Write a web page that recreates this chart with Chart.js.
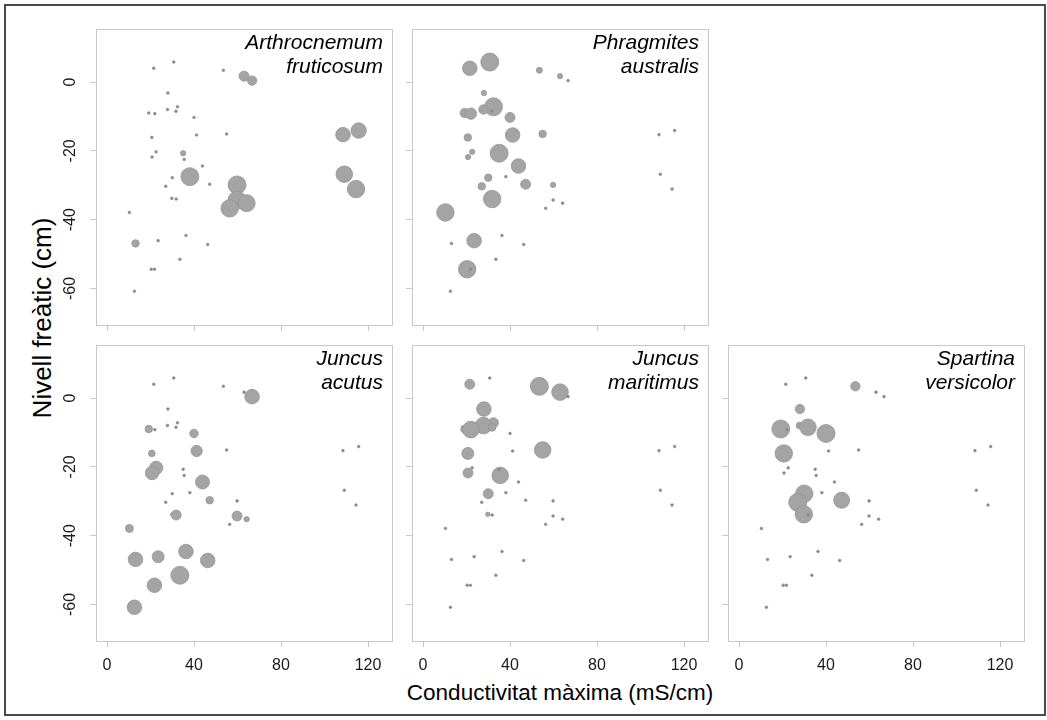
<!DOCTYPE html>
<html><head><meta charset="utf-8">
<script src="https://cdn.jsdelivr.net/npm/chart.js@4.4.1/dist/chart.umd.min.js"></script>
<style>
html,body{margin:0;padding:0;background:#fff;}
body{width:1047px;height:720px;position:relative;overflow:hidden;font-family:'Liberation Sans',Arial,sans-serif;}
.frame{position:absolute;left:4px;top:4px;width:1042px;height:712px;border:2px solid #4a4a4a;box-sizing:border-box;}
canvas{position:absolute;}
.sp{position:absolute;font-style:italic;font-size:21px;line-height:24px;text-align:right;color:#000;width:280px;white-space:nowrap;}
.ytitle{position:absolute;left:42px;top:318px;transform:translate(-50%,-50%) rotate(-90deg);font-size:26px;white-space:nowrap;color:#000;}
.xtitle{position:absolute;left:560px;top:693px;transform:translate(-50%,-50%);font-size:22.5px;white-space:nowrap;color:#000;}
</style></head>
<body>
<div class="frame"></div>
<div class="ytitle">Nivell freàtic (cm)</div>
<div class="xtitle">Conductivitat màxima (mS/cm)</div>
<script>
// Sites: maximum conductivity (mS/cm) and water table level (cm)
const conductivity = [21.5,30.7,53.5,28.0,32.4,27.8,31.7,19.2,22.0,40.0,
  20.6,41.2,55.0,22.6,20.7,35.5,35.0,43.9,30.0,27.0,
  47.2,29.8,31.8,10.3,36.3,23.5,46.3,33.5,20.3,21.8,
  12.6,13.1,38.1,59.8,59.8,64.2,56.4,63.0,66.7,108.5,
  115.7,109.1,114.5];
const waterTable = [4.0,5.8,3.4,-3.2,-7.2,-8.0,-8.5,-9.0,-9.2,-10.3,
  -16.1,-15.4,-15.1,-20.3,-21.8,-22.5,-20.7,-24.4,-27.8,-30.3,
  -29.7,-33.8,-34.0,-37.9,-44.6,-46.1,-47.2,-51.5,-54.4,-54.4,
  -60.8,-46.9,-27.5,-29.9,-34.3,-35.2,-36.7,1.7,0.4,-15.3,
  -14.1,-26.8,-31.1];
// Cover of each species at each site (estimated)
const coverArthrocnemum = [0,0,0,0,0,0,0,0,0,0, 0,0,0,0,0,0,7,0,0,0, 0,0,0,0,0,0,0,0,0,0, 0,14,81,81,81,72,76,25,22,53, 59,69,76];
const coverPhragmites  = [53,81,9,7,81,22,0,22,32,25, 14,53,14,7,7,0,81,53,14,14, 25,0,76,76,0,53,0,0,76,0, 0,0,0,7,0,0,0,7,0,0, 0,0,0];
const coverJuncusAcutus = [0,0,0,0,0,0,0,14,0,18, 11,32,0,45,45,0,0,49,0,0, 14,0,25,16,53,36,53,81,0,53, 53,53,0,0,25,7,0,0,53,0, 0,0,0];
const coverJuncusMaritimus = [25,0,81,53,25,69,16,16,69,0, 36,0,69,0,25,69,0,0,25,0, 0,5,0,0,0,0,0,0,0,0, 0,0,0,0,0,0,0,69,0,0, 0,0,0];
const coverSpartina = [0,0,22,22,0,11,69,81,0,81, 76,0,0,0,0,0,0,0,76,81, 64,76,0,0,0,0,0,0,0,0, 0,0,0,0,0,0,0,0,0,0, 0,0,0];
const speciesNames = ['Arthrocnemum fruticosum','Phragmites australis','Juncus acutus','Juncus maritimus','Spartina versicolor'];
const xTicks = [0,40,80,120];
const yTicks = [0,-20,-40,-60];

const covers = [coverArthrocnemum, coverPhragmites, coverJuncusAcutus, coverJuncusMaritimus, coverSpartina];
const layout = [
  {col:0,row:0,showX:false,showY:true},
  {col:1,row:0,showX:false,showY:false},
  {col:0,row:1,showX:true,showY:true},
  {col:1,row:1,showX:true,showY:false},
  {col:2,row:1,showX:true,showY:false}
];
const colLeft=[96,412,728], rowTop=[29,345], P=296, AX=60, AXH=50, PAD=4;

const boxPlugin = {
  id:'box',
  afterDraw(chart){
    const {ctx, chartArea:a} = chart;
    ctx.save(); ctx.strokeStyle='#c8c8c8'; ctx.lineWidth=1;
    ctx.strokeRect(a.left+0.5, a.top+0.5, a.right-a.left, a.bottom-a.top);
    ctx.restore();
  }
};
function zeroPad(s){ s.paddingTop=0; s.paddingBottom=0; s.paddingLeft=0; s.paddingRight=0; }

speciesNames.forEach((name,i)=>{
  const L = layout[i];
  const cv = document.createElement('canvas');
  cv.width = AX+P+PAD; cv.height = PAD+P+AXH;
  cv.style.left = (colLeft[L.col]-AX)+'px';
  cv.style.top = (rowTop[L.row]-PAD)+'px';
  document.body.appendChild(cv);
  const cover = covers[i];
  const pts = conductivity.map((x,k)=>({x:x, y:waterTable[k], r: cover[k]>0 ? Math.sqrt(cover[k]) : 1.3}));
  new Chart(cv, {
    type:'bubble',
    data:{datasets:[{data:pts,
      backgroundColor: ctx => (cover[ctx.dataIndex]>0 ? '#a4a4a4' : '#8c8c8c'),
      borderColor: ctx => (cover[ctx.dataIndex]>0 ? '#959595' : '#8c8c8c'),
      borderWidth:0.8, clip:false}]},
    options:{
      responsive:false, animation:false, devicePixelRatio:1,
      layout:{autoPadding:false, padding:{left:0,right:PAD,top:PAD,bottom:0}},
      plugins:{legend:{display:false},tooltip:{enabled:false}},
      events:[],
      scales:{
        x:{type:'linear',min:-5.06,max:131.03,
          afterBuildTicks:s=>{s.ticks = xTicks.map(v=>({value:v}));},
          afterFit:s=>{s.height=AXH; zeroPad(s);},
          grid:{drawOnChartArea:false,drawTicks:true,tickLength:6,color:'#c8c8c8'},
          border:{display:false},
          ticks:{display:L.showX,padding:9,color:'#1a1a1a',font:{family:"'Liberation Sans', Arial, sans-serif",size:16}}},
        y:{type:'linear',min:-70.6,max:15.4,
          afterBuildTicks:s=>{s.ticks = yTicks.map(v=>({value:v}));},
          afterFit:s=>{s.width=AX; zeroPad(s);},
          grid:{drawOnChartArea:false,drawTicks:true,tickLength:6,color:'#c8c8c8'},
          border:{display:false},
          ticks:{display:L.showY,padding:8,minRotation:90,maxRotation:90,crossAlign:'center',color:'#1a1a1a',font:{family:"'Liberation Sans', Arial, sans-serif",size:16}}}
      }
    },
    plugins:[boxPlugin]
  });
  const lab = document.createElement('div');
  lab.className='sp';
  const parts = name.split(' ');
  lab.innerHTML = parts[0]+'<br>'+parts[1];
  lab.style.left = (colLeft[L.col]+P-9-280)+'px';
  lab.style.top = (rowTop[L.row]+1)+'px';
  document.body.appendChild(lab);
});
</script>
</body></html>
